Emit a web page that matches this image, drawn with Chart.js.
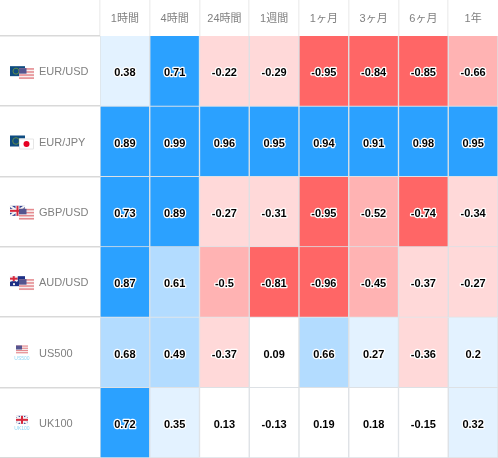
<!DOCTYPE html>
<html>
<head>
<meta charset="utf-8">
<style>
	html,body{margin:0;padding:0;background:#fff;}
	canvas{display:block;}
</style>
<script src="https://cdn.jsdelivr.net/npm/chart.js@4/dist/chart.umd.min.js"></script>
</head>
<body>
<canvas id="HeatMap" width="498" height="458"></canvas>
<script>
var periods = ['1時間','4時間','24時間','1週間','1ヶ月','3ヶ月','6ヶ月','1年'];
var symbols = ['EUR/USD','EUR/JPY','GBP/USD','AUD/USD','US500','UK100'];

var eurUsd = ['0.38','0.71','-0.22','-0.29','-0.95','-0.84','-0.85','-0.66'];
var eurJpy = ['0.89','0.99','0.96','0.95','0.94','0.91','0.98','0.95'];
var gbpUsd = ['0.73','0.89','-0.27','-0.31','-0.95','-0.52','-0.74','-0.34'];
var audUsd = ['0.87','0.61','-0.5','-0.81','-0.96','-0.45','-0.37','-0.27'];
var us500 = ['0.68','0.49','-0.37','0.09','0.66','0.27','-0.36','0.2'];
var uk100 = ['0.72','0.35','0.13','-0.13','0.19','0.18','-0.15','0.32'];
var table = [eurUsd,eurJpy,gbpUsd,audUsd,us500,uk100];

function cellColor(v){
	var a = Math.abs(v);
	if(a < 0.2) return '#ffffff';
	if(v > 0) return a < 0.4 ? '#e3f2ff' : a < 0.7 ? '#b3dcff' : '#2ba1ff';
	return a < 0.4 ? '#ffd9d9' : a < 0.7 ? '#ffb3b3' : '#ff6666';
}

function usFlag(c,x,y,w,h){
	c.fillStyle = '#f7f0f0';
	c.fillRect(x,y,w,h);
	c.fillStyle = '#e58a8f';
	for(var i = 0; i < 4; i++) c.fillRect(x,y+i*h/3.6,w,h/7.2);
	c.fillStyle = '#55558f';
	c.fillRect(x,y,w*0.5,h*0.5);
}
function euFlag(c,x,y,w,h){
	c.fillStyle = '#0f4c81';
	c.fillRect(x,y,w,h);
	c.strokeStyle = '#5f8a4a';
	c.beginPath();
	c.arc(x+w*0.4,y+h/2,h*0.3,0,Math.PI*2);
	c.stroke();
}
function ukFlag(c,x,y,w,h){
	c.fillStyle = '#2f3f8f';
	c.fillRect(x,y,w,h);
	c.strokeStyle = '#f4f4f4';
	c.lineWidth = 2;
	c.beginPath();
	c.moveTo(x,y);c.lineTo(x+w,y+h);
	c.moveTo(x+w,y);c.lineTo(x,y+h);
	c.stroke();
	c.fillStyle = '#f4f4f4';
	c.fillRect(x+w/2-2,y,4,h);
	c.fillRect(x,y+h/2-2,w,4);
	c.fillStyle = '#d8283c';
	c.fillRect(x+w/2-1,y,2,h);
	c.fillRect(x,y+h/2-1,w,2);
	c.lineWidth = 1;
}
function jpFlag(c,x,y,w,h){
	c.fillStyle = '#ffffff';
	c.fillRect(x,y,w,h);
	c.strokeStyle = '#e6e6e6';
	c.strokeRect(x+0.5,y+0.5,w-1,h-1);
	c.fillStyle = '#e60023';
	c.beginPath();
	c.arc(x+w/2,y+h/2,3,0,Math.PI*2);
	c.fill();
}
function auFlag(c,x,y,w,h){
	c.fillStyle = '#1d2f86';
	c.fillRect(x,y,w,h);
	ukFlag(c,x,y,w/2,h/2);
	c.fillStyle = '#eeeeee';
	c.fillRect(x+3,y+h-3,2,2);
	c.fillRect(x+w-5,y+3,1,1);
}

var flags = [
	function(c,y){ euFlag(c,10,y-6,15,10); usFlag(c,19,y-4,15,11); },
	function(c,y){ euFlag(c,10,y-7,15,11); jpFlag(c,19,y-4,15,11); },
	function(c,y){ ukFlag(c,10,y-7,15,10); usFlag(c,19,y-4,15,11); },
	function(c,y){ auFlag(c,10,y-7,15,10); usFlag(c,19,y-4,15,11); },
	function(c,y){ usFlag(c,16,y-8,12,8); smallTag(c,'US500',22,y+5); },
	function(c,y){ ukFlag(c,16,y-8,12,8); smallTag(c,'UK100',22,y+5); }
];
function smallTag(c,txt,x,y){
	c.fillStyle = '#8fd6f5';
	c.font = '5px "Liberation Sans"';
	c.textAlign = 'center';
	c.textBaseline = 'middle';
	c.fillText(txt,x,y);
}

var tableLines = {
	id:'tableLines',
	beforeDatasetsDraw:function(chart){
		var c = chart.ctx, xs = chart.scales.x, ys = chart.scales.y;
		c.save();
		c.fillStyle = '#f0f0f0';
		for(var i = 0; i < periods.length; i++){
			c.fillRect(Math.round(xs.left+i*xs.width/periods.length)-1,0,1.5,36);
		}
		c.fillStyle = '#d9d9d9';
		for(var r = 0; r <= symbols.length; r++){
			c.fillRect(0,Math.round(ys.getPixelForValue(r))-1,100,1.5);
		}
		c.restore();
	},
	afterDatasetsDraw:function(chart){
		var c = chart.ctx, ys = chart.scales.y;
		c.save();
		chart.data.datasets.forEach(function(ds,r){
			var rowMeta = chart.getDatasetMeta(r);
			rowMeta.data.forEach(function(bar,i){
				var p = bar.getCenterPoint();
				c.font = 'bold 11px "Liberation Sans"';
				c.textAlign = 'center';
				c.textBaseline = 'middle';
				c.lineJoin = 'round';
				c.lineWidth = 2.5;
				c.strokeStyle = '#ffffff';
				c.strokeText(table[r][i],p.x,p.y+2);
				c.fillStyle = '#000000';
				c.fillText(table[r][i],p.x,p.y+2);
			});
			c.lineWidth = 1;
			flags[r](c,ys.getPixelForValue(r+0.5)+1);
		});
		c.restore();
	}
};

new Chart(document.getElementById('HeatMap'),{
	type:'bar',
	plugins:[tableLines],
	data:{
		labels:periods,
		datasets:symbols.map(function(name,r){
			return {
				label:name,
				data:table[r].map(function(){ return 1; }),
				backgroundColor:table[r].map(function(v){ return cellColor(parseFloat(v)); }),
				borderColor:'#dde1e5',
				borderWidth:1,
				barPercentage:1,
				categoryPercentage:1
			};
		})
	},
	options:{
		responsive:false,
		animation:false,
		layout:{padding:{left:39}},
		plugins:{legend:{display:false},tooltip:{enabled:false}},
		scales:{
			x:{
				position:'top',
				stacked:true,
				grid:{display:false},
				border:{display:false},
				ticks:{color:'#808080',font:{size:11,family:'"Liberation Sans","Noto Sans CJK JP"'},maxRotation:0,padding:2},
				afterFit:function(scale){ scale.height = 36; }
			},
			y:{
				stacked:true,
				reverse:true,
				min:0,
				max:6,
				grid:{display:false},
				border:{display:false},
				afterBuildTicks:function(scale){
					scale.ticks = symbols.map(function(s,i){ return {value:i+0.515}; });
				},
				ticks:{
					color:'#808080',
					font:{size:11,family:'"Liberation Sans"'},
					crossAlign:'far',
					callback:function(value,i){ return symbols[i]; }
				},
				afterFit:function(scale){
					scale.width = 61;
					// labels sit mid-row, no margin needed for them
					scale.paddingTop = 0;
					scale.paddingBottom = 0;
				}
			}
		}
	}
});
</script>
</body>
</html>
